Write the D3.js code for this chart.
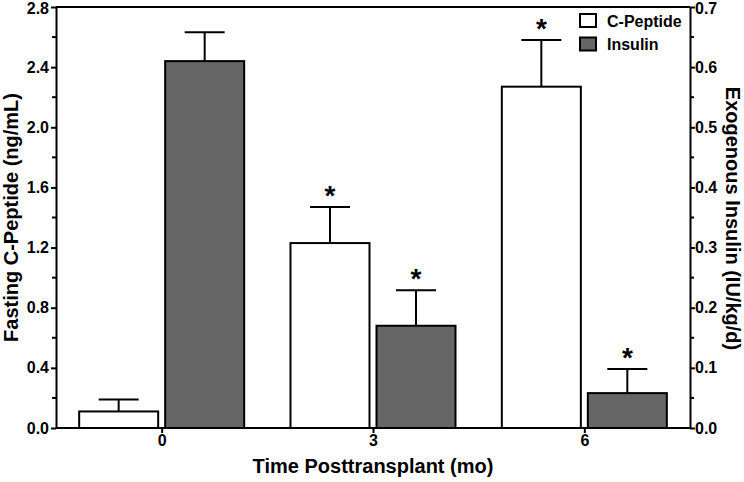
<!DOCTYPE html>
<html><head><meta charset="utf-8">
<script src="https://cdn.jsdelivr.net/npm/d3@7"></script>
<style>body{margin:0;background:#fff}svg{display:block}text{font-family:"Liberation Sans",Arial,Helvetica,sans-serif;font-weight:bold}</style>
</head><body>
<script>
const categories = ["0", "3", "6"];
const cpeptide = [0.11, 1.23, 2.27];
const cpeptideErr = [0.19, 1.47, 2.58];
const insulin = [0.61, 0.17, 0.058];
const insulinErr = [0.658, 0.229, 0.098];
const cpepStar = [false, true, true];
const insStar = [false, true, true];
const leftTicks = [0, 0.4, 0.8, 1.2, 1.6, 2.0, 2.4, 2.8];
const rightTicks = [0, 0.1, 0.2, 0.3, 0.4, 0.5, 0.6, 0.7];

const W = 744, H = 482;
const L = 56, R = 690, T = 7, B = 428;
const svg = d3.select("body").append("svg").attr("width", W).attr("height", H);

const x = d3.scalePoint().domain(categories).range([L, R]).padding(0.5);
const yL = d3.scaleLinear().domain([0, 2.8]).range([B, T]);
const yR = d3.scaleLinear().domain([0, 0.7]).range([B, T]);
const bw = 79, gap = 3.5;

const g = svg.append("g");
function drawSeries(vals, errs, stars, scale, side, fill) {
  categories.forEach((c, i) => {
    const x0 = side < 0 ? x(c) - gap - bw : x(c) + gap;
    const cx = x0 + bw / 2;
    g.append("line").attr("x1", cx).attr("x2", cx).attr("y1", scale(vals[i])).attr("y2", scale(errs[i]))
      .attr("stroke", "#000").attr("stroke-width", 2);
    g.append("line").attr("x1", cx - 20).attr("x2", cx + 20).attr("y1", scale(errs[i])).attr("y2", scale(errs[i]))
      .attr("stroke", "#000").attr("stroke-width", 2);
    g.append("rect").attr("x", x0).attr("y", scale(vals[i])).attr("width", bw).attr("height", B - scale(vals[i]))
      .attr("fill", fill).attr("stroke", "#000").attr("stroke-width", 2);
    if (stars[i]) {
      g.append("text").attr("x", cx).attr("y", scale(errs[i]) - 2).attr("text-anchor", "middle")
        .attr("font-size", 28).text("*");
    }
  });
}
drawSeries(cpeptide, cpeptideErr, cpepStar, yL, -1, "#fff");
drawSeries(insulin, insulinErr, insStar, yR, 1, "#666666");

svg.append("line").attr("x1", L).attr("x2", R).attr("y1", T).attr("y2", T).attr("stroke", "#000").attr("stroke-width", 2);

const axL = svg.append("g").attr("transform", `translate(${L},0)`)
  .call(d3.axisLeft(yL).tickValues(leftTicks).tickFormat(d3.format(".1f")).tickSize(5).tickSizeOuter(0));
axL.append("g").selectAll("line").data(d3.range(0.2, 2.8, 0.4)).join("line")
  .attr("x1", -4).attr("x2", 0).attr("y1", d => yL(d)).attr("y2", d => yL(d)).attr("stroke", "#000").attr("stroke-width", 2);
const axR = svg.append("g").attr("transform", `translate(${R},0)`)
  .call(d3.axisRight(yR).tickValues(rightTicks).tickFormat(d3.format(".1f")).tickSize(5).tickSizeOuter(0));
axR.append("g").selectAll("line").data(d3.range(0.05, 0.7, 0.1)).join("line")
  .attr("x1", 0).attr("x2", 4).attr("y1", d => yR(d)).attr("y2", d => yR(d)).attr("stroke", "#000").attr("stroke-width", 2);
const axB = svg.append("g").attr("transform", `translate(0,${B})`)
  .call(d3.axisBottom(x).tickSize(5).tickSizeOuter(0));
axB.select(".domain").attr("d", `M${L},0H${R}`);

[axL, axR, axB].forEach(a => {
  a.selectAll(".domain").attr("stroke", "#000").attr("stroke-width", 2);
  a.selectAll(".tick line").attr("stroke", "#000").attr("stroke-width", 2);
  a.selectAll("text").attr("font-size", 16).attr("font-family", "Liberation Sans, Arial, sans-serif").attr("font-weight", "bold").attr("fill", "#000");
});
axL.selectAll(".tick text").attr("x", -7);
axR.selectAll(".tick text").attr("x", 5);
axB.selectAll(".tick text").attr("y", 7);
axL.selectAll(".tick").filter(d => d === 2.8).select("text").attr("dy", "0.38em");
axR.selectAll(".tick").filter(d => d === 0.7).select("text").attr("dy", "0.38em");

svg.append("text").attr("transform", `translate(18,${(T + B) / 2}) rotate(-90)`).attr("text-anchor", "middle")
  .attr("font-size", 20).text("Fasting C-Peptide (ng/mL)");
svg.append("text").attr("transform", `translate(726,${(T + B) / 2 + 1}) rotate(90)`).attr("text-anchor", "middle")
  .attr("font-size", 20).text("Exogenous Insulin (IU/kg/d)");
svg.append("text").attr("x", (L + R) / 2).attr("y", 473).attr("text-anchor", "middle")
  .attr("font-size", 20).text("Time Posttransplant (mo)");

const legend = [["C-Peptide", "#fff"], ["Insulin", "#666666"]];
const lg = svg.append("g").attr("transform", "translate(580,14)");
legend.forEach((d, i) => {
  lg.append("rect").attr("x", 0).attr("y", i * 23.5).attr("width", 16).attr("height", 13)
    .attr("fill", d[1]).attr("stroke", "#000").attr("stroke-width", 2);
  lg.append("text").attr("x", 27).attr("y", i * 23.5 + 12.5).attr("font-size", 16).text(d[0]);
});
</script>
</body></html>
